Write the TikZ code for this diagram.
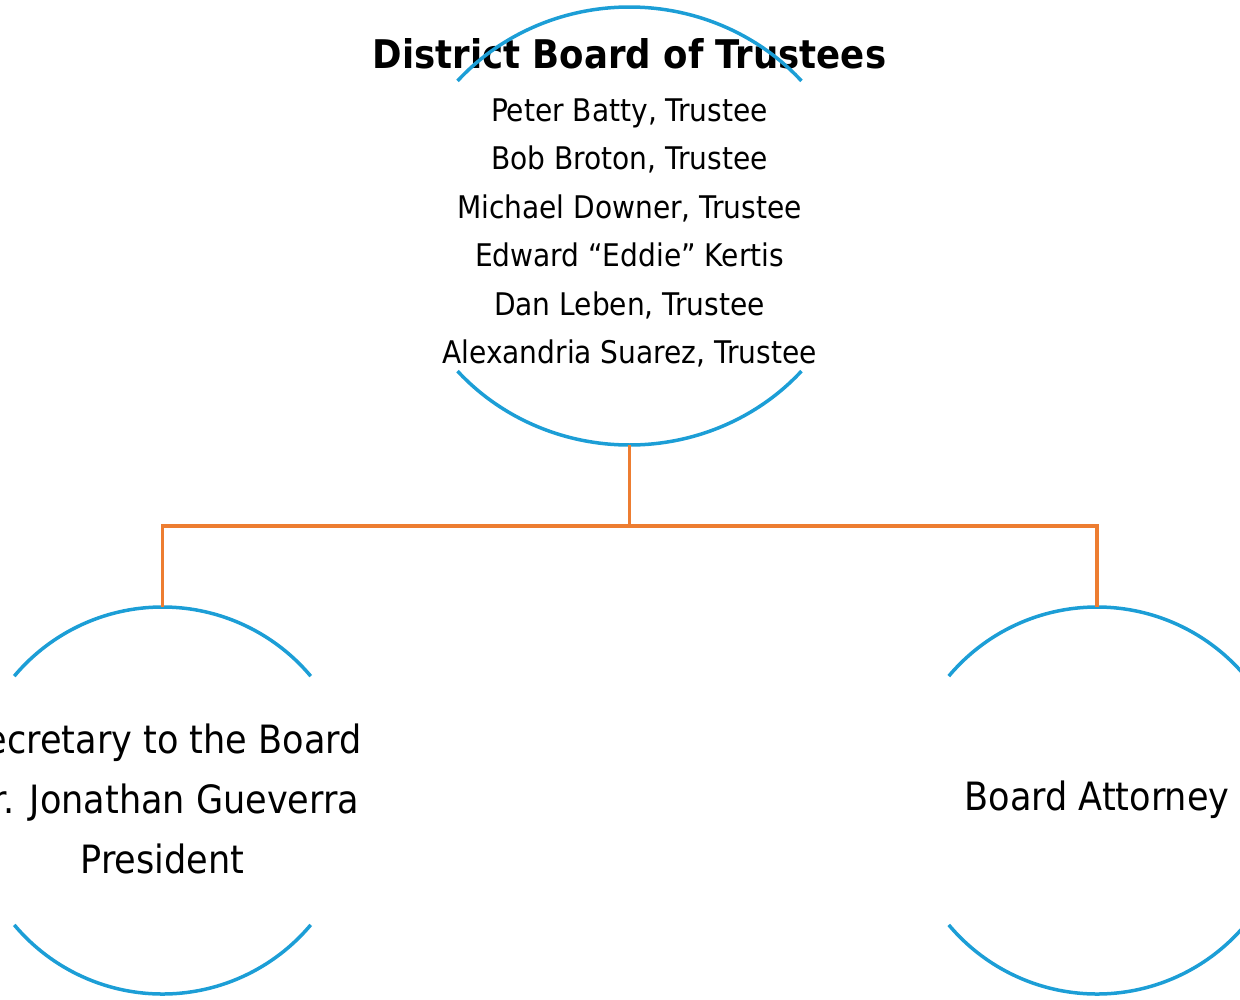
\documentclass[tikz,border=0pt]{standalone}
\usepackage{fontspec}
\setmainfont{DejaVu Sans Condensed}
\usetikzlibrary{shapes.geometric}
\definecolor{arcblue}{RGB}{28,158,214}
\definecolor{linkorange}{RGB}{237,125,49}
\tikzset{
  arcline/.style={draw=arcblue, line width=3.5pt},
  linkline/.style={draw=linkorange, line width=3.5pt},
  bigoval/.style={ellipse, draw=none, inner sep=0pt, minimum width=459.2pt, minimum height=438pt},
  smallcircle/.style={circle, draw=none, inner sep=0pt, minimum size=387pt},
  lowertext/.style={align=center, inner sep=0pt, font=\fontsize{39}{60}\selectfont},
  titletext/.style={font=\fontsize{39.5}{44}\bfseries\selectfont, inner sep=0pt},
  nametext/.style={font=\fontsize{31.2}{48.4}\selectfont, align=center, inner sep=0pt}
}
\begin{document}
\begin{tikzpicture}[x=1pt,y=1pt]
\useasboundingbox (0,0) rectangle (1240,-999);
% nodes
\node[bigoval] (board) at (629.5,-226) {};
\node[titletext] (boardtitle) at (629.5,-54) {District Board of Trustees};
\node[nametext] (boardnames) at (629.5,-233) {Peter Batty, Trustee\\Bob Broton, Trustee\\Michael Downer, Trustee\\Edward “Eddie” Kertis\\Dan Leben, Trustee\\Alexandria Suarez, Trustee};
\node[smallcircle] (sec) at (162.5,-800.5) {};
\node[lowertext] (sectext) at (162.5,-798.5) {Secretary to the Board\\Dr. Jonathan Gueverra\\President};
\node[smallcircle] (att) at (1097,-800.5) {};
\node[lowertext] (atttext) at (1097,-800) {Board Attorney};
% arcs of the top oval
\draw[arcline] (board.center) ++(138.5:229.6pt and 219pt) arc[start angle=138.5, end angle=41.5, x radius=229.6pt, y radius=219pt];
\draw[arcline] (board.center) ++(221.5:229.6pt and 219pt) arc[start angle=221.5, end angle=318.5, x radius=229.6pt, y radius=219pt];
% arcs of the lower circles
\foreach \c in {sec,att}{
  \draw[arcline] (\c.center) ++(140:193.5pt) arc[start angle=140, end angle=40, radius=193.5pt];
  \draw[arcline] (\c.center) ++(220:193.5pt) arc[start angle=220, end angle=320, radius=193.5pt];
}
% connectors
\coordinate (fork) at (629.5,-526);
\draw[linkline] (board.south) -- (fork);
\draw[linkline] (fork) -| (sec.north);
\draw[linkline] (fork) -| (att.north);
\end{tikzpicture}
\end{document}
